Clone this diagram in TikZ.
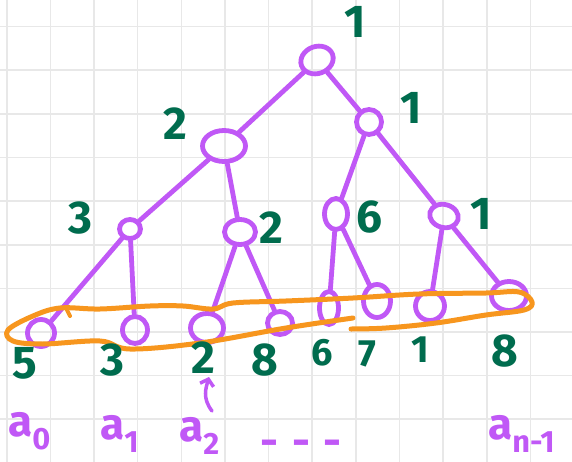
\documentclass[tikz,border=0pt]{standalone}
\usepackage{fontspec}
\setmainfont{Fira Sans}
\usetikzlibrary{shapes.geometric,arrows.meta}
\definecolor{purp}{RGB}{192,88,246}
\definecolor{grn}{RGB}{0,108,78}
\definecolor{orng}{RGB}{247,150,30}
\definecolor{gridc}{RGB}{232,232,232}
\begin{document}
\begin{tikzpicture}[x=1pt,y=-1pt,
  tnode/.style={draw=purp,line width=4.8pt,ellipse,inner sep=0pt},
  edge/.style={draw=purp,line width=4.8pt,line cap=round},
  lab/.style={text=grn,inner sep=0pt,font=\bfseries\fontsize{46}{46}\selectfont},
  slab/.style={text=grn,inner sep=0pt,font=\bfseries\fontsize{38}{38}\selectfont},
  alab/.style={text=purp,inner sep=0pt,font=\bfseries\fontsize{44}{44}\selectfont},
  sz/.style 2 args={minimum width=#1pt,minimum height=#2pt}]
\clip (0,0) rectangle (572,462);
\fill[white] (0,0) rectangle (572,462);
% grid
\foreach \k in {0,...,13} {\draw[gridc,line width=1.6pt] ({6.7+43.65*\k},0) -- ({6.7+43.65*\k},462);}
\foreach \k in {0,...,9} {\draw[gridc,line width=1.6pt] (0,{26.7+43.6*\k}) -- (572,{26.7+43.6*\k});}
% tree nodes
\node[tnode,sz={33}{27},rotate=20] (root) at (317,60) {};
\node[tnode,sz={25}{25}] (r2) at (369,122) {};
\node[tnode,sz={43}{31}] (l2) at (224,146) {};
\node[tnode,sz={21}{19}] (n3) at (130,229) {};
\node[tnode,sz={31}{25}] (m2) at (240,232) {};
\node[tnode,sz={23}{31}] (n6) at (336,214) {};
\node[tnode,sz={29}{23},rotate=-15] (r3) at (444,216) {};
\node[tnode,sz={27}{27}] (f0) at (41,333) {};
\node[tnode,sz={25}{27}] (f1) at (135,330) {};
\node[tnode,sz={33}{29}] (f2) at (207,328) {};
\node[tnode,sz={25}{23}] (f3) at (280,323) {};
\node[tnode,sz={19}{33}] (f4) at (329,308) {};
\node[tnode,sz={27}{33}] (f5) at (377,301) {};
\node[tnode,sz={29}{29}] (f6) at (430,306) {};
\node[tnode,sz={35}{29}] (f7) at (509,296) {};
% edges
\draw[edge] (root) -- (l2);
\draw[edge] (root) -- (r2);
\draw[edge] (l2) -- (n3);
\draw[edge] (l2) -- (m2);
\draw[edge] (r2) -- (n6);
\draw[edge] (r2) -- (r3);
\draw[edge] (n3) -- (f0);
\draw[edge] (n3) -- (f1);
\draw[edge] (m2) -- (f2);
\draw[edge] (m2) -- (f3);
\draw[edge] (n6) -- (f4);
\draw[edge] (n6) -- (f5);
\draw[edge] (r3) -- (f6);
\draw[edge] (r3) -- (f7);
% orange loop
\draw[orng,line width=5pt,line cap=round,line join=round]
  plot[smooth,tension=0.6] coordinates {(353,318) (286,328) (200,343) (130,349) (100,341) (43,344) (13,341) (8,330) (33,316) (60,308) (100,309) (150,306) (183,306) (213,309) (233,303) (286,301) (353,298) (419,294) (486,293) (519,292) (532,302) (524,310) (486,315) (436,323) (386,328) (351,329)};
\draw[orng,line width=4pt,line cap=round] (66,308) -- (70,316);
% tree labels
\node[lab] (labroot) at (355,22) {1};
\node[lab] (labr2) at (411,108) {1};
\node[lab] (labl2) at (175,124) {2};
\node[lab] (lab3) at (80,218) {3};
\node[lab] (labm2) at (271,228) {2};
\node[lab] (lab6) at (369,217) {6};
\node[lab] (labr3) at (481,214) {1};
% leaf labels
\node[lab] (v0) at (25,363) {5};
\node[lab] (v1) at (112,360) {3};
\node[lab] (v2) at (203,358) {2};
\node[lab] (v3) at (265,360) {8};
\node[slab] (v4) at (322,353) {6};
\node[slab] (v5) at (367,354) {7};
\node[slab] (v6) at (420,350) {1};
\node[lab] (v7) at (505,351) {8};
% arrow
\coordinate (arS) at (212,411);
\coordinate (arE) at (209,377);
\draw[purp,line width=3.5pt,line cap=round,-{Straight Barb[length=6pt,width=14pt]}] (arS) .. controls (202,398) and (206,388) .. (arE);
% array labels
\node[alab,anchor=west] (a0) at (8,431) {a\textsubscript{0}};
\node[alab,anchor=west] (a1) at (100,434) {a\textsubscript{1}};
\node[alab,anchor=west] (a2) at (179,436) {a\textsubscript{2}};
\node[alab,anchor=base] (dots) at (301,456) {-\hspace{14pt}-\hspace{14pt}-};
\node[alab,anchor=west] (an) at (488,434) {a\textsubscript{n-1}};
\end{tikzpicture}
\end{document}
